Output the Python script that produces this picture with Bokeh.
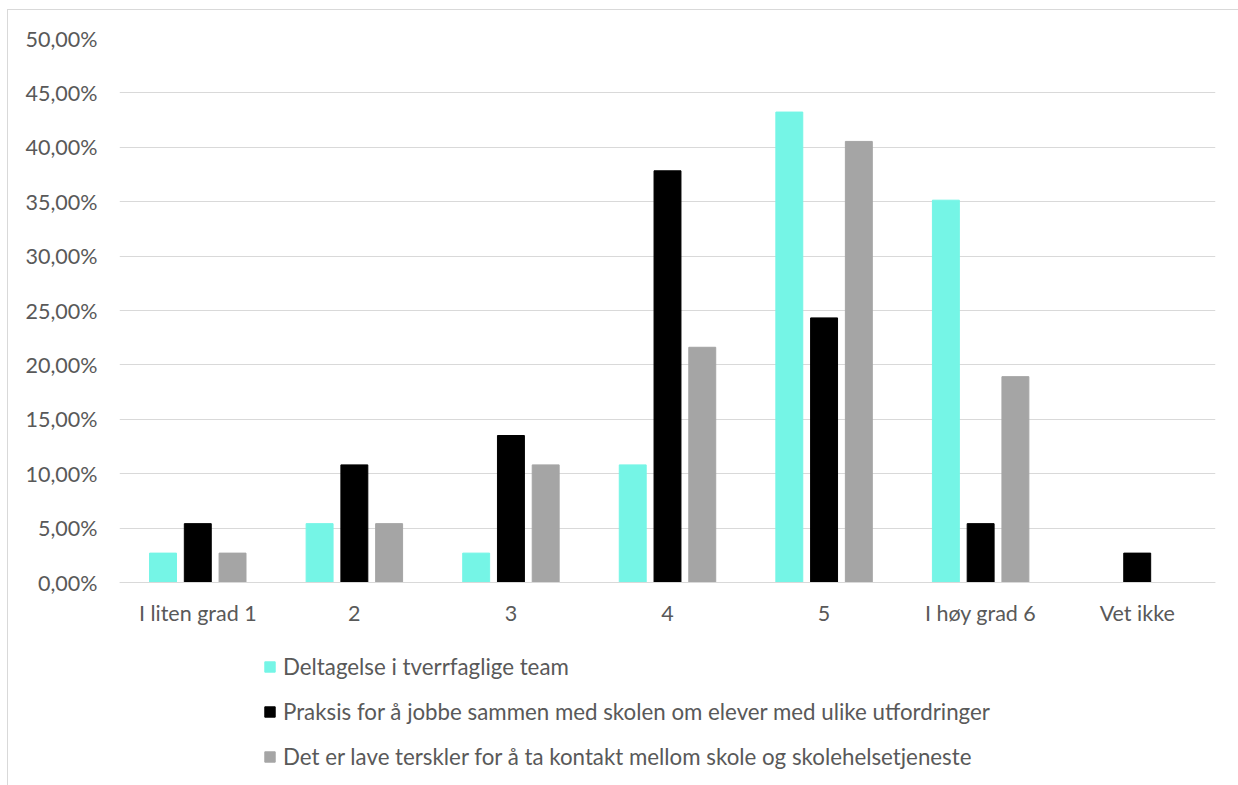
from bokeh.plotting import figure
from bokeh.models import ColumnDataSource, FactorRange, Legend, LegendItem, FixedTicker, Range1d
from bokeh.transform import dodge
from bokeh.embed import file_html
from bokeh.resources import INLINE

categories = ["I liten grad 1", "2", "3", "4", "5", "I høy grad 6", "Vet ikke"]
series_names = [
    "Deltagelse i tverrfaglige team",
    "Praksis for å jobbe sammen med skolen om elever med ulike utfordringer",
    "Det er lave terskler for å ta kontakt mellom skole og skolehelsetjeneste",
]
team = [0.0270, 0.0541, 0.0270, 0.1081, 0.4324, 0.3514, 0.0]
praksis = [0.0541, 0.1081, 0.1351, 0.3784, 0.2432, 0.0541, 0.0270]
terskler = [0.0270, 0.0541, 0.1081, 0.2162, 0.4054, 0.1892, 0.0]
tick_values = [0.0, 0.05, 0.10, 0.15, 0.20, 0.25, 0.30, 0.35, 0.40, 0.45, 0.50]
tick_labels = ["0,00%", "5,00%", "10,00%", "15,00%", "20,00%", "25,00%",
               "30,00%", "35,00%", "40,00%", "45,00%", "50,00%"]
colors = ["#75F5E6", "#000000", "#A5A5A5"]

src = ColumnDataSource(dict(cat=categories, a=team, b=praksis, c=terskler))

FONT = "Lato"
TXT = "#595959"
FS = "21.5px"

# frame extends below zero so that the legend can sit inside it
p = figure(x_range=FactorRange(*categories, range_padding=0.0),
           y_range=Range1d(-0.18658, 0.5),
           frame_width=1096, frame_height=747, output_backend="svg", toolbar_location=None,
           min_border_left=111, min_border_right=23, min_border_top=28, min_border_bottom=0)
p.styles = {"border-left": "1px solid #D9D9D9", "border-top": "1px solid #D9D9D9",
            "margin-left": "7px", "margin-top": "9px"}
p.outline_line_color = None

bw = 0.172
off = 0.222
r1 = p.vbar(x=dodge("cat", -off, range=p.x_range), top="a", width=bw, source=src, color=colors[0])
r2 = p.vbar(x=dodge("cat", 0.0, range=p.x_range), top="b", width=bw, source=src, color=colors[1])
r3 = p.vbar(x=dodge("cat", off, range=p.x_range), top="c", width=bw, source=src, color=colors[2])

p.xgrid.grid_line_color = None
p.ygrid.grid_line_color = "#D9D9D9"
p.ygrid.grid_line_width = 1
p.yaxis.ticker = FixedTicker(ticks=tick_values)
p.yaxis.major_label_overrides = {v: l for v, l in zip(tick_values, tick_labels)}

for ax in (p.xaxis, p.yaxis):
    ax.major_tick_line_color = None
    ax.minor_tick_line_color = None
    ax.major_label_text_font = FONT
    ax.major_label_text_font_size = FS
    ax.major_label_text_color = TXT
p.yaxis.axis_line_color = None
p.xaxis.axis_line_color = "#D9D9D9"
p.xaxis.fixed_location = 0
p.yaxis.major_label_standoff = 16
p.xaxis.major_label_standoff = 11

legend = Legend(items=[LegendItem(label=series_names[0], renderers=[r1]),
                       LegendItem(label=series_names[1], renderers=[r2]),
                       LegendItem(label=series_names[2], renderers=[r3])],
                orientation="vertical", location=(144, 15),
                glyph_width=13, glyph_height=13, label_height=20,
                spacing=18, label_standoff=7, padding=0, margin=0,
                label_text_font=FONT, label_text_font_size="22.3px", label_text_color=TXT,
                border_line_color=None, background_fill_alpha=0)
p.add_layout(legend, "center")

open("out.html", "w").write(file_html(p, INLINE))
